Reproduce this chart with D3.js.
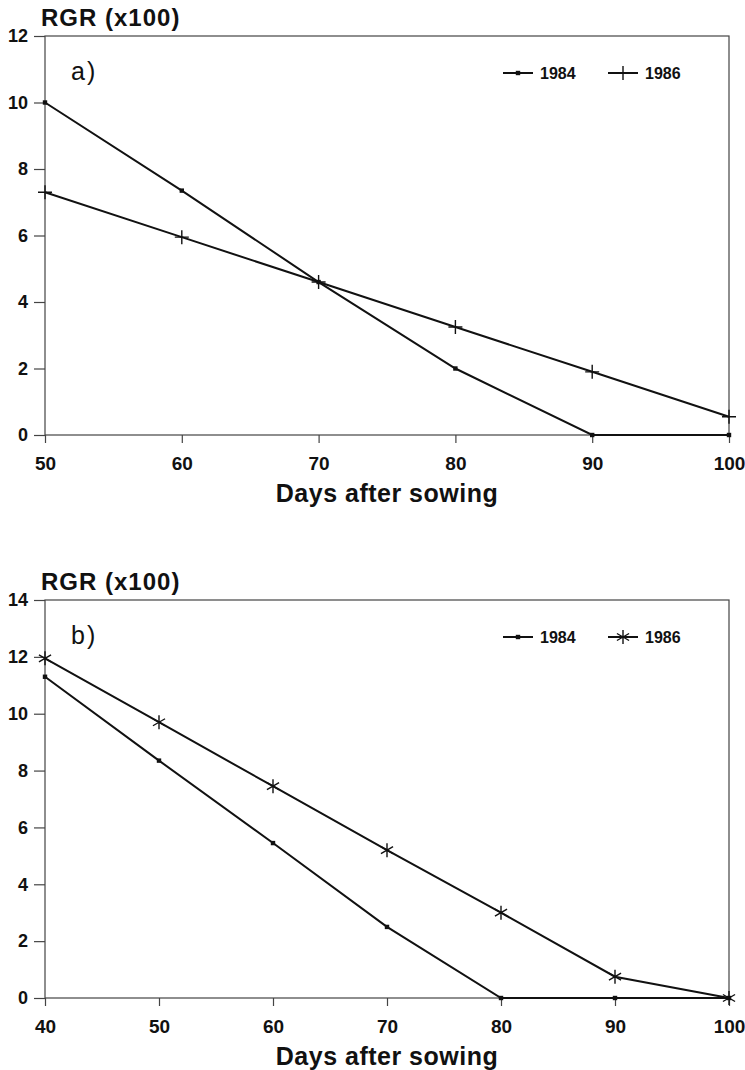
<!DOCTYPE html>
<html>
<head>
<meta charset="utf-8">
<script src="https://cdn.jsdelivr.net/npm/d3@7"></script>
<style>
  body { margin: 0; background: #fff; }
  svg { display: block; }
  text { font-family: "Liberation Sans", Arial, sans-serif; fill: #111; }
</style>
</head>
<body>
<div id="chart"></div>
<script>
// panel a)
var daysA = [50, 60, 70, 80, 90, 100];
var rgrA1984 = [10.0, 7.35, 4.6, 2.0, 0.0, 0.0];
var rgrA1986 = [7.3, 5.95, 4.6, 3.25, 1.9, 0.55];
var xTicksA = [50, 60, 70, 80, 90, 100];
var yTicksA = [0, 2, 4, 6, 8, 10, 12];

// panel b)
var daysB = [40, 50, 60, 70, 80, 90, 100];
var rgrB1984 = [11.3, 8.35, 5.45, 2.5, 0.0, 0.0, 0.0];
var rgrB1986 = [11.95, 9.7, 7.45, 5.2, 3.0, 0.75, 0.0];
var xTicksB = [40, 50, 60, 70, 80, 90, 100];
var yTicksB = [0, 2, 4, 6, 8, 10, 12, 14];

var seriesNames = ['1984', '1986'];
var yTitle = 'RGR (x100)';
var xTitle = 'Days after sowing';

(function(){
  var W = 745, H = 1070;
  var svg = d3.select('#chart').append('svg').attr('width', W).attr('height', H);

  var panels = [
    {tag: 'a)', days: daysA, s1: rgrA1984, s2: rgrA1986, mark: 'plus',
     xTicks: xTicksA, yTicks: yTicksA, left: 45, right: 729, top: 36, bottom: 435},
    {tag: 'b)', days: daysB, s1: rgrB1984, s2: rgrB1986, mark: 'star',
     xTicks: xTicksB, yTicks: yTicksB, left: 45, right: 729, top: 600, bottom: 998}
  ];

  function plusPath(s){ return 'M' + (-s) + ',0H' + s + 'M0,' + (-s) + 'V' + s; }
  function starPath(s){
    var dx = s * Math.cos(Math.PI / 6), dy = s * Math.sin(Math.PI / 6);
    return 'M0,' + (-s) + 'V' + s +
      'M' + (-dx) + ',' + (-dy) + 'L' + dx + ',' + dy +
      'M' + (-dx) + ',' + dy + 'L' + dx + ',' + (-dy);
  }

  function drawMark(g, type, x, y){
    if (type === 'dot') {
      g.append('rect').attr('x', x - 2.2).attr('y', y - 2.2).attr('width', 4.4).attr('height', 4.4).attr('fill', '#111');
    } else {
      g.append('path').attr('transform', 'translate(' + x + ',' + y + ')')
        .attr('d', type === 'plus' ? plusPath(7) : starPath(7))
        .attr('fill', 'none').attr('stroke', '#111').attr('stroke-width', 1.4);
    }
  }

  panels.forEach(function(p){
    var g = svg.append('g');
    var x = d3.scaleLinear().domain(d3.extent(p.xTicks)).range([p.left, p.right]);
    var y = d3.scaleLinear().domain(d3.extent(p.yTicks)).range([p.bottom, p.top]);

    // frame
    g.append('rect').attr('x', p.left).attr('y', p.top)
      .attr('width', p.right - p.left).attr('height', p.bottom - p.top)
      .attr('fill', 'none').attr('stroke', '#444').attr('stroke-width', 1.2);

    var yAxis = g.append('g').attr('transform', 'translate(' + p.left + ',0)')
      .call(d3.axisLeft(y).tickValues(p.yTicks).tickSize(11).tickPadding(6).tickFormat(d3.format('d')));
    yAxis.select('.domain').remove();
    yAxis.selectAll('line').attr('stroke', '#444').attr('stroke-width', 1.2);
    yAxis.selectAll('text').style('font-size', '18px').style('font-weight', 'bold').attr('fill', '#111');

    var xAxis = g.append('g').attr('transform', 'translate(0,' + p.bottom + ')')
      .call(d3.axisBottom(x).tickValues(p.xTicks).tickSize(8).tickPadding(14).tickFormat(d3.format('d')));
    xAxis.select('.domain').remove();
    xAxis.selectAll('line').attr('stroke', '#444').attr('stroke-width', 1.2);
    xAxis.selectAll('text').style('font-size', '19px').style('font-weight', 'bold').attr('fill', '#111');

    // titles
    g.append('text').attr('x', p.left - 4).attr('y', p.top - 10)
      .style('font-size', '24px').style('font-weight', 'bold').style('letter-spacing', '1px')
      .text(yTitle);
    g.append('text').attr('x', (p.left + p.right) / 2).attr('y', p.bottom + 67)
      .attr('text-anchor', 'middle')
      .style('font-size', '25px').style('font-weight', 'bold').style('letter-spacing', '0.5px')
      .text(xTitle);
    g.append('text').attr('x', p.left + 26).attr('y', p.top + 44)
      .style('font-size', '25px').style('letter-spacing', '2px')
      .text(p.tag);

    // series
    var line = d3.line().x(function(d){ return x(d[0]); }).y(function(d){ return y(d[1]); });
    var sets = [
      {vals: p.s1, mark: 'dot'},
      {vals: p.s2, mark: p.mark}
    ];
    sets.forEach(function(s){
      var pts = p.days.map(function(d, i){ return [d, s.vals[i]]; });
      g.append('path').datum(pts).attr('d', line)
        .attr('fill', 'none').attr('stroke', '#111').attr('stroke-width', 2);
      pts.forEach(function(d){ drawMark(g, s.mark, x(d[0]), y(d[1])); });
    });

    // legend
    var ly = p.top + 37;
    var lx = [p.right - 226, p.right - 121];
    sets.forEach(function(s, i){
      g.append('line').attr('x1', lx[i]).attr('x2', lx[i] + 30).attr('y1', ly).attr('y2', ly)
        .attr('stroke', '#111').attr('stroke-width', 2);
      drawMark(g, s.mark, lx[i] + 15, ly);
      g.append('text').attr('x', lx[i] + 37).attr('y', ly + 6)
        .style('font-size', '16px').style('font-weight', 'bold')
        .text(seriesNames[i]);
    });
  });
})();
</script>
</body>
</html>
